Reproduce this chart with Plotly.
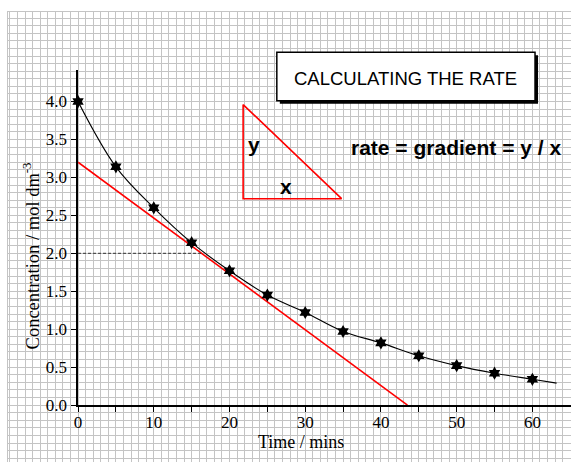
import plotly.graph_objects as go

# ---- data ----
time_min = [0, 5, 10, 15, 20, 25, 30, 35, 40, 45, 50, 55, 60]
conc = [4.00, 3.14, 2.60, 2.14, 1.77, 1.45, 1.22, 0.97, 0.82, 0.65, 0.52, 0.42, 0.34]
curve_end_x = [63.2]
curve_end_y = [0.29]
tangent_x = [0, 43.5]
tangent_y = [3.2, 0.0]
guide_x = [0, 16.5]
guide_y = [2.0, 2.0]
triangle_x = [21.8, 21.8, 34.8]
triangle_y = [3.96, 2.72, 2.72]
box_x = [26.25, 60.35]
box_y = [4.01, 4.65]
x_ticks = [0, 10, 20, 30, 40, 50, 60]
x_tick_text = ["0", "10", "20", "30", "40", "50", "60"]
x_minor_ticks = [5, 15, 25, 35, 45, 55]
y_ticks = [0.0, 0.5, 1.0, 1.5, 2.0, 2.5, 3.0, 3.5, 4.0]
y_tick_text = ["0.0", "0.5", "1.0", "1.5", "2.0", "2.5", "3.0", "3.5", "4.0"]
x_title = "Time / mins"
y_title = "Concentration / mol dm<sup>-3</sup>"
box_text = "CALCULATING THE RATE"
rate_text = "rate = gradient = y / x"

# ---- layout geometry ----
W, H = 571, 462
ML, MT, MR, MB = 8, 12, 0, 0
XMIN, XMAX = -9.25, 65.1
YMIN, YMAX = -0.75, 5.18
Y_AXIS_TOP = 4.41

def fx(v):
    return (v - XMIN) / (XMAX - XMIN)

def fy(v):
    return (v - YMIN) / (YMAX - YMIN)

serif = "Liberation Serif, Times New Roman, serif"
sans = "Liberation Sans, Arial, sans-serif"

fig = go.Figure()

# tangent (red)
fig.add_trace(go.Scatter(x=tangent_x, y=tangent_y, mode="lines", xaxis="x2", yaxis="y2",
                         line=dict(color="#ff0000", width=1.6),
                         showlegend=False, hoverinfo="skip"))
# dashed guide at y=2
fig.add_trace(go.Scatter(x=guide_x, y=guide_y, mode="lines", xaxis="x2", yaxis="y2",
                         line=dict(color="#333333", width=1, dash="3px,2px"),
                         showlegend=False, hoverinfo="skip"))
# smooth curve
fig.add_trace(go.Scatter(x=time_min + curve_end_x, y=conc + curve_end_y, mode="lines",
                         xaxis="x2", yaxis="y2",
                         line=dict(color="black", width=1.1, shape="spline", smoothing=1.0),
                         showlegend=False, hoverinfo="skip"))
# data points
fig.add_trace(go.Scatter(x=time_min, y=conc, mode="markers", xaxis="x2", yaxis="y2",
                         marker=dict(symbol="hexagram", size=10, color="black",
                                     line=dict(width=0)),
                         cliponaxis=False, showlegend=False))
# triangle
fig.add_trace(go.Scatter(x=triangle_x + triangle_x[:1], y=triangle_y + triangle_y[:1],
                         mode="lines", xaxis="x2", yaxis="y2",
                         line=dict(color="#ff0000", width=1.6),
                         showlegend=False, hoverinfo="skip"))
# invisible trace keeping the background grid subplot alive
fig.add_trace(go.Scatter(x=[XMIN], y=[YMIN], mode="markers", marker=dict(opacity=0),
                         showlegend=False, hoverinfo="skip"))

# box with shadow (3px offset)
dx = 3 * (XMAX - XMIN) / (W - ML - MR)
dy = 3 * (YMAX - YMIN) / (H - MT - MB)
fig.add_shape(type="rect", xref="x", yref="y",
              x0=box_x[0] + dx, x1=box_x[1] + dx, y0=box_y[0] - dy, y1=box_y[1] - dy,
              fillcolor="black", line=dict(width=0), layer="above")
fig.add_shape(type="rect", xref="x", yref="y",
              x0=box_x[0], x1=box_x[1], y0=box_y[0], y1=box_y[1],
              fillcolor="white", line=dict(color="black", width=1.5), layer="above")

annotations = [
    dict(x=sum(box_x) / 2, y=4.31, text=box_text, showarrow=False,
         font=dict(family=sans, size=18.5, color="black")),
    dict(x=49.87, y=3.394, text="<b>" + rate_text + "</b>", showarrow=False,
         font=dict(family=sans, size=21, color="black")),
    dict(x=23.18, y=3.43, text="<b>y</b>", showarrow=False,
         font=dict(family=sans, size=21, color="black")),
    dict(x=27.48, y=2.88, text="<b>x</b>", showarrow=False,
         font=dict(family=sans, size=21, color="black")),
    dict(x=29.43, y=-0.49, text=x_title, showarrow=False,
         font=dict(family=serif, size=18, color="black")),
    dict(x=-6.2, y=1.96, text=y_title, showarrow=False, textangle=-90,
         font=dict(family=serif, size=18.5, color="black")),
]
for a in annotations:
    a.update(xref="x", yref="y")

fig.update_layout(
    template="none",
    width=W, height=H, autosize=False,
    margin=dict(l=ML, r=MR, t=MT, b=MB, pad=0, autoexpand=False),
    paper_bgcolor="white", plot_bgcolor="rgba(0,0,0,0)",
    showlegend=False,
    annotations=annotations,
    xaxis=dict(domain=[0, 1], range=[XMIN, XMAX], dtick=1, tick0=0, automargin=False,
               showgrid=True, gridcolor="#c4c4c4", gridwidth=1,
               zeroline=False, showticklabels=False, ticks="",
               showline=True, linecolor="#c4c4c4", mirror=True, fixedrange=True),
    yaxis=dict(domain=[0, 1], range=[YMIN, YMAX], dtick=0.1, tick0=0, automargin=False,
               showgrid=True, gridcolor="#c4c4c4", gridwidth=1,
               zeroline=False, showticklabels=False, ticks="",
               showline=True, linecolor="#c4c4c4", mirror=True, fixedrange=True),
    xaxis2=dict(domain=[fx(0), 1], range=[0, XMAX], anchor="y2", automargin=False,
                tickmode="array", tickvals=x_ticks, ticktext=x_tick_text,
                ticks="outside", ticklen=5, tickwidth=1.3, tickcolor="black",
                ticklabelstandoff=-4,
                minor=dict(tickmode="array", tickvals=x_minor_ticks, ticks="outside",
                           ticklen=5, tickwidth=1.3, tickcolor="black", showgrid=False),
                showline=True, linecolor="black", linewidth=1.5,
                showgrid=False, zeroline=False, fixedrange=True,
                tickfont=dict(family=serif, size=17, color="black")),
    yaxis2=dict(domain=[fy(0), fy(Y_AXIS_TOP)], range=[0, Y_AXIS_TOP], anchor="x2",
                automargin=False,
                tickmode="array", tickvals=y_ticks, ticktext=y_tick_text,
                ticks="outside", ticklen=5, tickwidth=1.3, tickcolor="black",
                ticklabelstandoff=1,
                showline=True, linecolor="black", linewidth=1.5,
                showgrid=False, zeroline=False, fixedrange=True,
                tickfont=dict(family=serif, size=17, color="black")),
)

fig.write_html("out.html", config={"displayModeBar": False},
               post_script="document.body.style.margin='0px';"
                           "document.documentElement.style.overflow='hidden';")
